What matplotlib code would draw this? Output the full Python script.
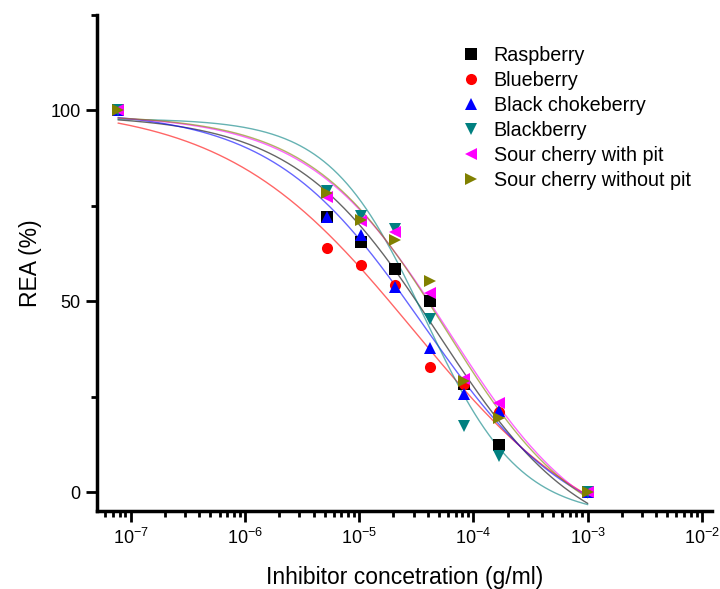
import numpy as np
import matplotlib
matplotlib.use("Agg")
import matplotlib.pyplot as plt
from matplotlib.ticker import LogLocator, FixedLocator, NullFormatter

plt.rcParams['font.family'] = ['Liberation Sans', 'DejaVu Sans']
plt.rcParams['mathtext.fontset'] = 'custom'
plt.rcParams['mathtext.rm'] = 'Liberation Sans'
plt.rcParams['mathtext.it'] = 'Liberation Sans:italic'

# concentrations (g/ml)
conc = [7.8e-8, 5.2e-6, 1.04e-5, 2.08e-5, 4.17e-5, 8.33e-5, 1.67e-4, 1.0e-3]

names = ["Raspberry", "Blueberry", "Black chokeberry", "Blackberry",
         "Sour cherry with pit", "Sour cherry without pit"]

raspberry    = [100, 72.0, 65.4, 58.5, 50.1, 28.3, 12.3, 0.0]
blueberry    = [100, 64.0, 59.4, 54.3, 32.8, 28.3, 21.0, 0.0]
chokeberry   = [100, 72.0, 67.4, 53.8, 37.8, 25.7, 21.3, 0.0]
blackberry   = [100, 78.8, 72.2, 69.0, 45.4, 17.3, 9.4, 0.0]
cherry_pit   = [100, 77.2, 71.0, 68.0, 52.2, 29.7, 23.4, 0.0]
cherry_nopit = [100, 78.3, 71.3, 65.9, 55.4, 29.1, 19.5, 0.0]

# dose-response fit parameters (top, bottom, log x0, hill slope), per series
fit_top    = [98.80, 101.48, 100.02, 97.81, 98.94, 98.84]
fit_bottom = [-15.58, -16.77, -12.37, -6.56, -15.44, -13.82]
fit_logx0  = [-4.312, -4.522, -4.439, -4.425, -4.209, -4.240]
fit_hill   = [0.690, 0.529, 0.657, 1.041, 0.704, 0.733]

series = [raspberry, blueberry, chokeberry, blackberry, cherry_pit, cherry_nopit]
colors = ["#000000", "#FF0000", "#0000FF", "#008080", "#FF00FF", "#808000"]
markers = ["s", "o", "^", "v", "<", ">"]


def dose_resp(lx, top, bot, L, h):
    return bot + (top - bot) / (1.0 + 10.0 ** ((lx - L) * h))


fig = plt.figure(figsize=(7.2, 5.89), dpi=100)
ax = fig.add_axes([0.135, 0.132, 0.854, 0.843])

xs = np.logspace(np.log10(conc[0]), np.log10(conc[-1]), 300)
for i, c in enumerate(colors):
    ax.plot(xs, dose_resp(np.log10(xs), fit_top[i], fit_bottom[i], fit_logx0[i], fit_hill[i]),
            color=c, lw=1.0, alpha=0.6, zorder=2)

for ys, c, m, n in zip(series, colors, markers, names):
    ax.plot(conc, ys, linestyle='none', marker=m, color=c, markersize=8,
            markeredgewidth=0, label=n, zorder=3)

ax.set_xscale('log')
ax.set_xlim(5.1e-8, 1.23e-2)
ax.set_ylim(-5, 125)

ax.spines['top'].set_visible(False)
ax.spines['right'].set_visible(False)
ax.spines['left'].set_linewidth(2.5)
ax.spines['bottom'].set_linewidth(2.5)

ax.set_yticks([0, 50, 100])
ax.yaxis.set_minor_locator(FixedLocator([25, 75, 125]))
ax.xaxis.set_major_locator(FixedLocator([1e-7, 1e-6, 1e-5, 1e-4, 1e-3, 1e-2]))
ax.set_xticklabels([r"$10^{-7}$", r"$10^{-6}$", r"$10^{-5}$", r"$10^{-4}$",
                    r"$10^{-3}$", r"$10^{-2}$"])
ax.xaxis.set_minor_locator(LogLocator(base=10, subs=np.arange(2, 10), numticks=20))
ax.xaxis.set_minor_formatter(NullFormatter())

ax.tick_params(which='major', direction='out', length=8, width=2, labelsize=13,
               colors='black', pad=4)
ax.tick_params(which='minor', direction='out', length=4.5, width=2)

ax.set_xlabel("Inhibitor concetration (g/ml)", fontsize=16.5, labelpad=13)
ax.set_ylabel("REA (%)", fontsize=16.5, labelpad=6)

leg = ax.legend(loc='upper left', bbox_to_anchor=(0.576, 0.953), frameon=False,
                fontsize=14.2, handletextpad=0.55, labelspacing=0.3,
                borderaxespad=0, handlelength=1.2)

fig.savefig("out.png", dpi=100)
